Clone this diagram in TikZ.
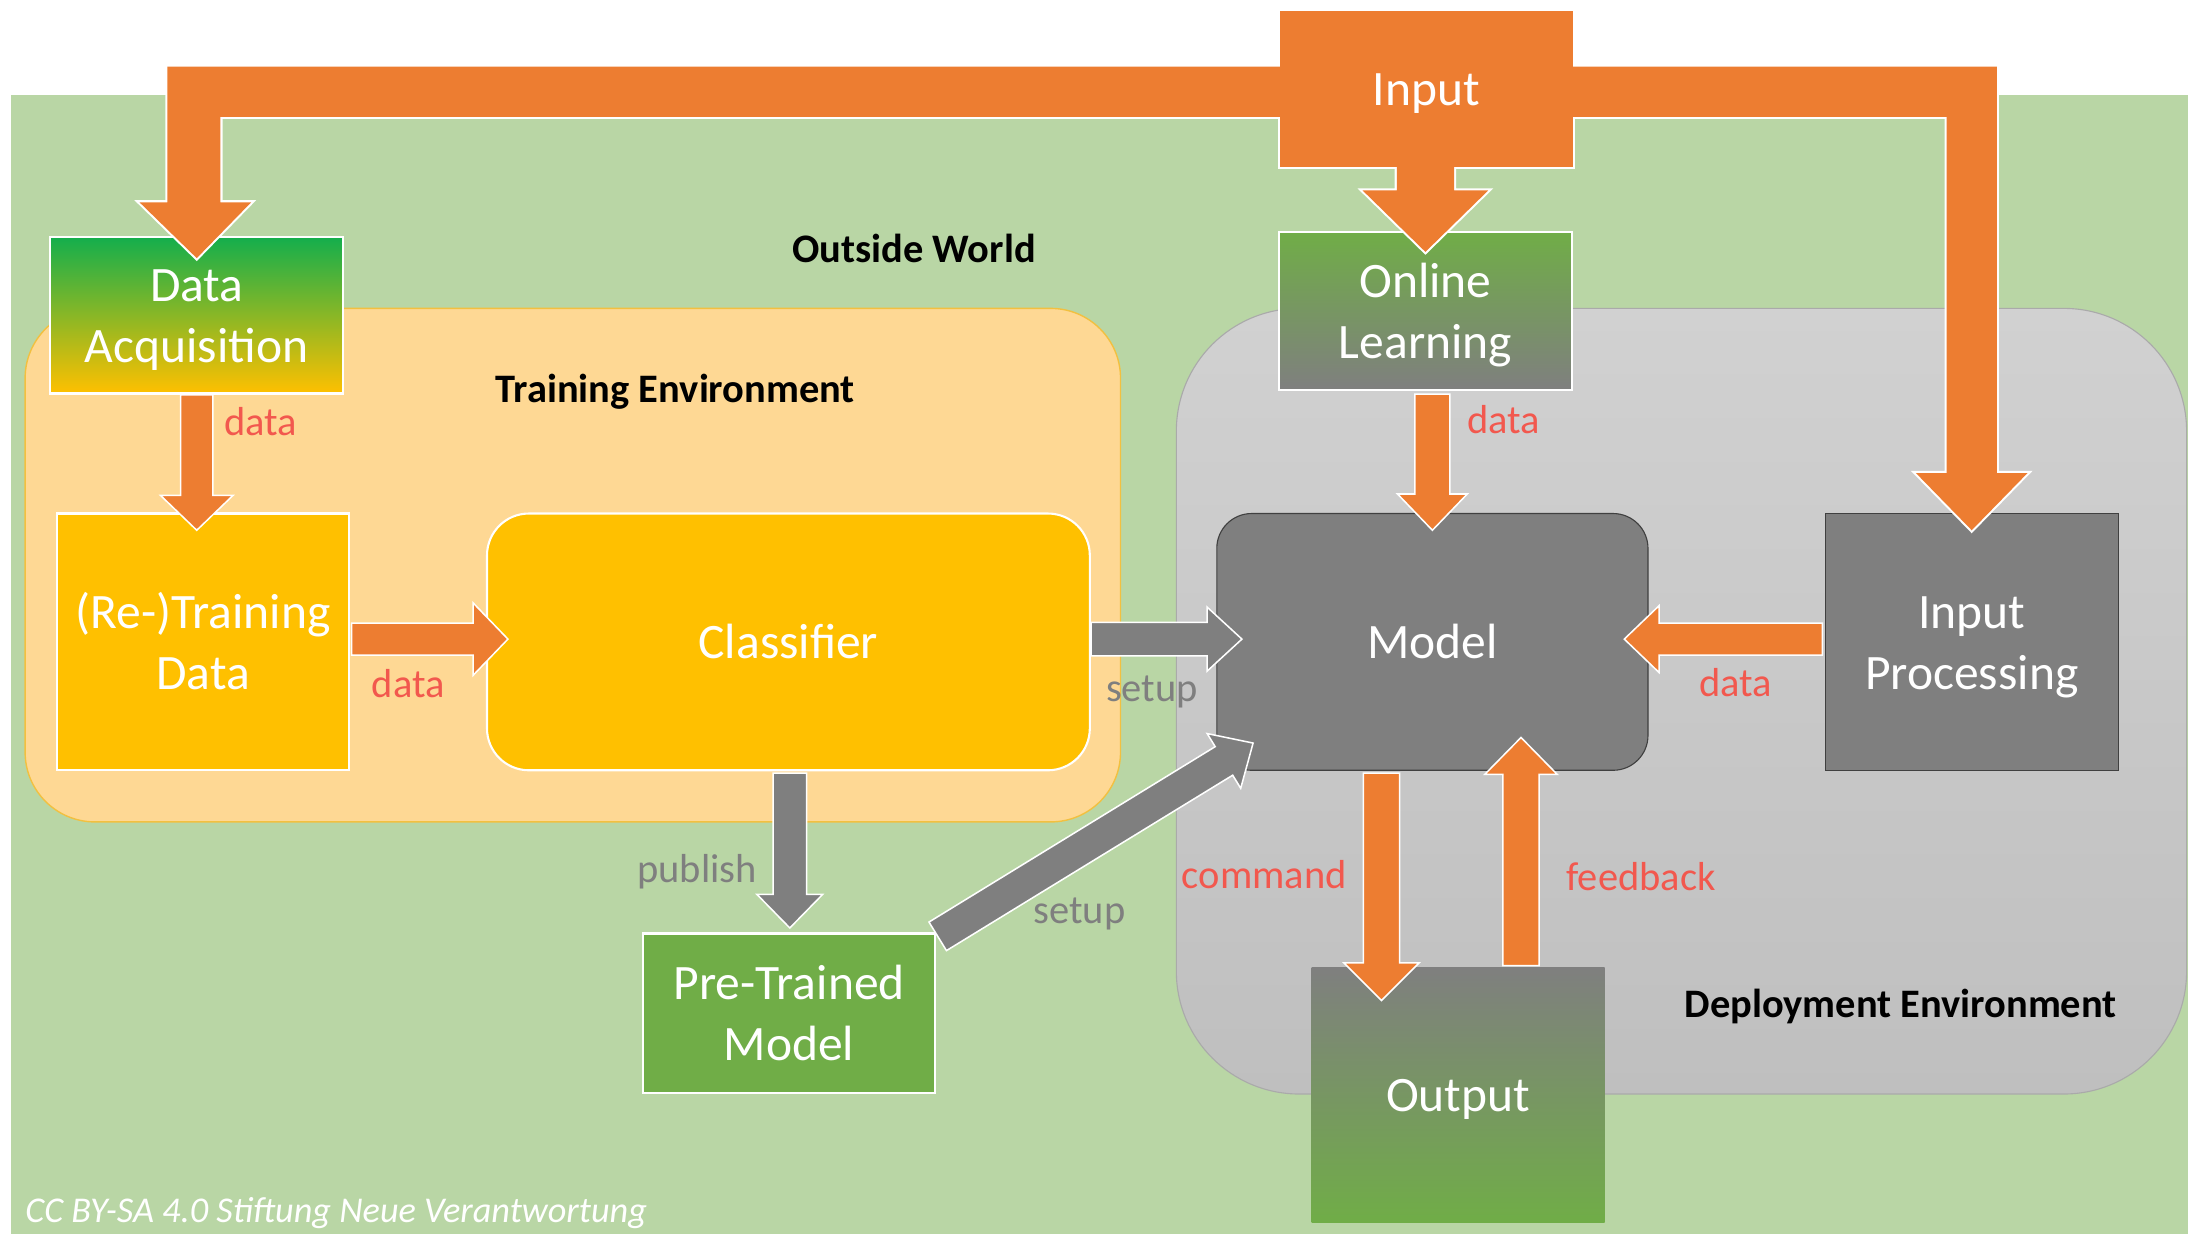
\documentclass[tikz,border=0pt]{standalone}
\usepackage{fontspec}
\setmainfont{Carlito}
\usetikzlibrary{calc}
\definecolor{world}{RGB}{185,214,165}
\definecolor{trainenv}{RGB}{254,216,148}
\definecolor{trainedge}{RGB}{242,192,64}
\definecolor{deploytop}{RGB}{209,209,209}
\definecolor{deploybot}{RGB}{191,191,191}
\definecolor{deployedge}{RGB}{170,170,170}
\definecolor{orng}{RGB}{237,125,49}
\definecolor{yel}{RGB}{255,192,0}
\definecolor{grn}{RGB}{112,173,71}
\definecolor{brightgrn}{RGB}{20,174,76}
\definecolor{gry}{RGB}{127,127,127}
\definecolor{darkedge}{RGB}{64,64,64}
\definecolor{lblred}{RGB}{242,88,78}

\pgfdeclarelayer{front}
\pgfsetlayers{main,front}

\newcommand{\blockarrow}[6]{%
  \coordinate (ba-s) at #2;
  \coordinate (ba-t) at #3;
  \coordinate (ba-b) at ($(ba-t)!#6!(ba-s)$);
  \draw[blockline, fill=#1]
    ($(ba-s)!#4!90:(ba-t)$) -- ($(ba-b)!#4!90:(ba-t)$) -- ($(ba-b)!#5!90:(ba-t)$)
    -- (ba-t) -- ($(ba-b)!#5!-90:(ba-t)$) -- ($(ba-b)!#4!-90:(ba-t)$)
    -- ($(ba-s)!#4!-90:(ba-t)$) -- cycle;
}

\newcommand{\inputpaths}[1]{%
  \path[#1] (input.north west) rectangle (input.south east);
  \path[#1] ($(input.west)+(2,-16)$) -- ($(acq.north |- input.west)+(-21,-16)$)
    -- ($(acq.north)+(-21,-25)$) -- ($(acq.north)+(-41,-25)$) -- ($(acq.north)+(0,15)$)
    -- ($(acq.north)+(39,-25)$) -- ($(acq.north)+(17,-25)$)
    -- ($(acq.north |- input.west)+(17,20)$) -- ($(input.west)+(2,20)$) -- cycle;
  \path[#1] ($(input.east)+(-2,-16)$) -- ($(inproc.north |- input.east)+(18,-16)$)
    -- ($(inproc.north)+(18,-29)$) -- ($(inproc.north)+(40,-29)$) -- ($(inproc.north)+(0,12)$)
    -- ($(inproc.north)+(-40,-29)$) -- ($(inproc.north)+(-18,-29)$)
    -- ($(inproc.north |- input.east)+(-18,20)$) -- ($(input.east)+(-2,20)$) -- cycle;
  \path[#1] ($(online.north |- input.south)+(-20.5,-2)$) -- ($(online.north)+(-20.5,-30)$)
    -- ($(online.north)+(-45,-30)$) -- ($(online.north)+(0,14)$) -- ($(online.north)+(45,-30)$)
    -- ($(online.north)+(20.5,-30)$) -- ($(online.north |- input.south)+(20.5,-2)$) -- cycle;
}

\begin{document}
\begin{tikzpicture}[x=1pt, y=-1pt,
    boxfont/.style={font=\fontsize{35.5}{43.5}\selectfont, text height=34.8pt, text depth=10.4pt},
    twolines/.style={text height=78.2pt},
    whitebox/.style={boxfont, draw=white, line width=1.5pt, text=white, align=center, inner sep=0, outer sep=0},
    graybox/.style={boxfont, draw=darkedge, line width=0.8pt, fill=gry, text=white, align=center, inner sep=0, outer sep=0},
    inbox/.style={boxfont, fill=orng, text=white, minimum width=210, minimum height=111.5, inner sep=0, outer sep=0},
    blockline/.style={draw=white, line width=1.1pt},
    lbl/.style={font=\fontsize{29}{35}\selectfont, inner sep=0},
    redlbl/.style={lbl, text=lblred},
    graylbl/.style={lbl, text=gry},
    envlbl/.style={font=\bfseries\fontsize{29}{35}\selectfont, inner sep=0}]
    \useasboundingbox (0,0) rectangle (1568,884);
    \fill[white] (0,0) rectangle (1568,884);
    \fill[world] (8,68) rectangle (1568,884);
    \draw[trainedge, line width=1pt, fill=trainenv, rounded corners=50] (18,221) rectangle (803,589);
    \draw[deployedge, line width=0.8pt, top color=deploytop, bottom color=deploybot, rounded corners=88] (843,221) rectangle (1567,784);

    \node[envlbl] (worldlbl) at (655,178) {Outside World};
    \node[envlbl] (trainlbl) at (484,281) {Training Environment};
    \node[envlbl] (deploylbl) at (1362,721) {Deployment Environment};

    \node[whitebox, twolines, top color=brightgrn, bottom color=yel, minimum width=210, minimum height=112] (acq) at (141,226) {Data\\Acquisition};
    \node[whitebox, twolines, top color=grn, bottom color=gry, minimum width=210, minimum height=113] (online) at (1021.5,223) {Online\\Learning};
    \node[whitebox, twolines, fill=yel, minimum width=209, minimum height=184] (train) at (145.5,460) {(Re-)Training\\Data};
    \node[whitebox, fill=yel, rounded corners=30, minimum width=432, minimum height=184] (clf) at (565,460) {Classifier};
    \node[graybox, rounded corners=25, minimum width=309, minimum height=184] (model) at (1026.5,460) {Model};
    \node[graybox, twolines, minimum width=210, minimum height=184] (inproc) at (1413,460) {Input\\Processing};
    \node[whitebox, twolines, fill=grn, minimum width=209, minimum height=114] (pre) at (565.5,726) {Pre-Trained\\Model};
    \node[whitebox, draw=none, top color=gry, bottom color=grn, minimum width=210, minimum height=183] (output) at (1045,784.5) {Output};

    \blockarrow{orng}{($(acq.south)+(0,1)$)}{($(acq.south |- train.north)+(0,12)$)}{11.5pt}{26pt}{25pt}
    \blockarrow{orng}{($(train.east)+(2,-2)$)}{($(clf.west)+(15,-2)$)}{11.5pt}{26pt}{25pt}
    \blockarrow{gry}{($(clf.east)+(1,-2)$)}{($(model.west)+(18,-2)$)}{12pt}{23pt}{25pt}
    \blockarrow{gry}{($(clf.south)+(1,2)$)}{($(pre.north)+(0.5,-4)$)}{12pt}{23.5pt}{24pt}
    \blockarrow{gry}{($(pre.north east)+(2,2)$)}{($(model.south west)+(26,-19.5)$)}{12pt}{23pt}{24.5pt}
    \blockarrow{orng}{($(model.north |- online.south)+(0,3)$)}{($(model.north)+(0,12)$)}{12.5pt}{25pt}{26pt}
    \blockarrow{orng}{($(inproc.west)+(-2,-2)$)}{($(model.east)+(-17,-2)$)}{11.5pt}{24pt}{25pt}
    \coordinate (cmd) at ($(output.north)+(-55,0)$);
    \coordinate (fb) at ($(output.north)+(45,0)$);
    \blockarrow{orng}{($(cmd |- model.south)+(0,2)$)}{($(cmd)+(0,24)$)}{13pt}{27pt}{27pt}
    \blockarrow{orng}{($(fb)+(0,-1)$)}{($(fb |- model.south)+(0,-23.5)$)}{13pt}{26pt}{26.5pt}

    \begin{pgfonlayer}{front}
      \node[inbox] (input) at (1022,63.75) {Input};
    \end{pgfonlayer}
    \inputpaths{draw=white, line width=3pt}
    \inputpaths{fill=orng}

    \node[redlbl] (lbl-acq) at (187,302) {data};
    \node[redlbl] (lbl-train) at (292.5,490) {data};
    \node[graylbl] (lbl-setup) at (825.5,496) {setup};
    \node[graylbl] (lbl-publish) at (499.5,625) {publish};
    \node[graylbl] (lbl-setup2) at (773.5,655) {setup};
    \node[redlbl] (lbl-online) at (1077.5,301) {data};
    \node[redlbl] (lbl-inproc) at (1244,489) {data};
    \node[redlbl] (lbl-cmd) at (906,627) {command};
    \node[redlbl] (lbl-fb) at (1176,628) {feedback};
    \node[font=\itshape\fontsize{26}{31}\selectfont, text=white, anchor=west, inner sep=0] (credit) at (18,869) {CC BY-SA 4.0 Stiftung Neue Verantwortung};
\end{tikzpicture}
\end{document}
